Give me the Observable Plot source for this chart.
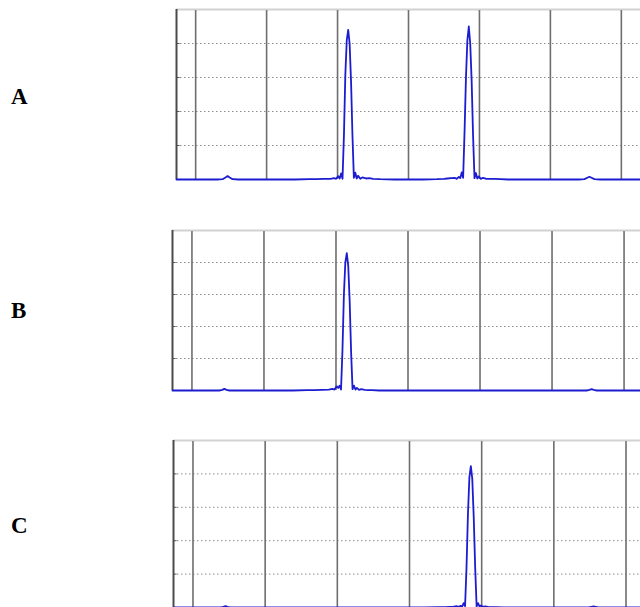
<!DOCTYPE html>
<html><head><meta charset="utf-8">
<script src="https://cdn.jsdelivr.net/npm/d3@7"></script>
<script src="https://cdn.jsdelivr.net/npm/@observablehq/plot@0.6"></script>
<style>
html,body{margin:0;padding:0;background:#fff;overflow:hidden;}
#wrap{position:relative;width:640px;height:607px;overflow:hidden;background:#fff;}
.panel{position:absolute;left:0;max-width:none !important;}
.lab{position:absolute;left:11px;font-family:"Liberation Serif","Times New Roman",serif;font-weight:bold;font-size:23px;line-height:23px;color:#000;}
</style></head><body><div id="wrap"></div>
<script>
// frequency axis (grid units) shared by all three spectra
const xGrid = [
  -3.27,-2.90,-2.70,-2.62,-2.58,-2.55,-2.52,-2.48,-2.40,-2.00,
  -1.60,-1.40,-1.30,-1.20,-1.10,-1.05,-1.02,-0.99,-0.97,-0.95,
  -0.93,-0.91,-0.89,-0.87,-0.85,-0.83,-0.81,-0.79,-0.77,-0.75,
  -0.73,-0.71,-0.68,-0.65,-0.60,-0.55,-0.50,-0.40,-0.20,0,
  0.20,0.40,0.50,0.55,0.60,0.65,0.68,0.71,0.73,0.75,
  0.77,0.79,0.81,0.83,0.85,0.87,0.89,0.91,0.93,0.95,
  0.97,0.99,1.02,1.05,1.10,1.20,1.30,1.40,1.60,2.00,
  2.40,2.48,2.52,2.55,2.58,2.62,2.70,2.90,3.27
];
const yA = [
  0,0,0,0.01,0.06,0.10,0.06,0.01,0,0,
  0,0.01,0.01,0.02,0.02,0.04,0.02,0.10,0.03,0.18,
  0.02,1.30,3.10,4.10,4.40,4.00,2.90,1.30,0.05,0.20,
  0.03,0.11,0.02,0.06,0.03,0.04,0.02,0.01,0,0,
  0,0.01,0.02,0.03,0.04,0.05,0.02,0.08,0.04,0.21,
  0.05,1.40,3.00,4.10,4.50,4.00,2.90,1.30,0.04,0.19,
  0.03,0.09,0.02,0.05,0.02,0.02,0.01,0,0,0,
  0,0.01,0.05,0.08,0.05,0.01,0,0,0
];
const yB = [
  0,0,0,0,0.02,0.05,0.02,0,0,0,
  0,0.01,0.01,0.02,0.03,0.05,0.03,0.13,0.08,0.15,
  0.03,1.25,3.00,4.00,4.29,3.90,2.80,1.20,0.04,0.15,
  0.03,0.08,0.02,0.04,0.02,0.01,0.01,0,0,0,
  0,0,0,0,0,0,0,0,0,0,
  0,0,0,0,0,0,0,0,0,0,
  0,0,0,0,0,0,0,0,0,0,
  0,0,0.02,0.04,0.02,0,0,0,0
];
const yC = [
  0,0,0,0,0.02,0.04,0.02,0,0,0,
  0,0,0,0,0,0,0,0,0,0,
  0,0,0,0,0,0,0,0,0,0,
  0,0,0,0,0,0,0,0,0,0,
  0,0.01,0.01,0.02,0.02,0.04,0.02,0.05,0.03,0.13,
  0.04,1.20,2.80,3.90,4.23,3.85,2.70,1.20,0.03,0.13,
  0.03,0.06,0.02,0.03,0.01,0.01,0,0,0,0,
  0,0,0.02,0.03,0.02,0,0,0,0
];
const panelLabels = ["A","B","C"];
const xTicks = [-3,-2,-1,0,1,2,3];
const yTicks = [1,2,3,4];
const xDomain = [-3.27, 3.27];
const yDomain = [0, 5];

const series = [yA, yB, yC];
// layout (pixels): plot-area left, top, width, height, label centre
const layouts = [
  {left:176, top:9,   w:464, h:170, labelY:96},
  {left:172, top:230, w:471, h:160, labelY:310},
  {left:173, top:440, w:472, h:167, labelY:525}
];

const wrap = document.getElementById("wrap");
series.forEach((ys, k) => {
  const L = layouts[k];
  const data = xGrid.map((x, i) => ({x, y: ys[i]}));
  const pad = 5;
  const chart = Plot.plot({
    width: L.left + L.w + 20,
    height: L.h + 2 * pad,
    marginLeft: L.left,
    marginRight: 20,
    marginTop: pad,
    marginBottom: pad,
    style: {background: "transparent", overflow: "visible", maxWidth: "none"},
    x: {domain: xDomain, axis: null},
    y: {domain: yDomain, axis: null},
    marks: [
      Plot.ruleY(yTicks, {stroke: "#8c8c8c", strokeWidth: 1, strokeDasharray: "1.5,2.5"}),
      Plot.ruleX(xTicks, {stroke: "#6e6e6e", strokeWidth: 1.6}),
      Plot.ruleX(xTicks, {y1: yDomain[1], y2: yDomain[1] - 0.06, stroke: "#333", strokeWidth: 1.5}),
      Plot.ruleY(yTicks, {x1: xDomain[0], x2: xDomain[0] + 0.05, stroke: "#555", strokeWidth: 1}),
      Plot.ruleY([yDomain[1]], {stroke: "#d2d2d2", strokeWidth: 2}),
      Plot.ruleX([xDomain[0]], {stroke: "#4a4a4a", strokeWidth: 2}),
      Plot.line(data, {x: "x", y: "y", stroke: "#1c1cd0", strokeWidth: 1.8, curve: "linear"})
    ]
  });
  chart.classList.add("panel");
  chart.style.top = (L.top - pad) + "px";
  chart.style.maxWidth = "none";
  wrap.appendChild(chart);
  const lab = document.createElement("div");
  lab.className = "lab";
  lab.textContent = panelLabels[k];
  lab.style.top = (L.labelY - 11.5) + "px";
  wrap.appendChild(lab);
});
</script>
</body></html>
